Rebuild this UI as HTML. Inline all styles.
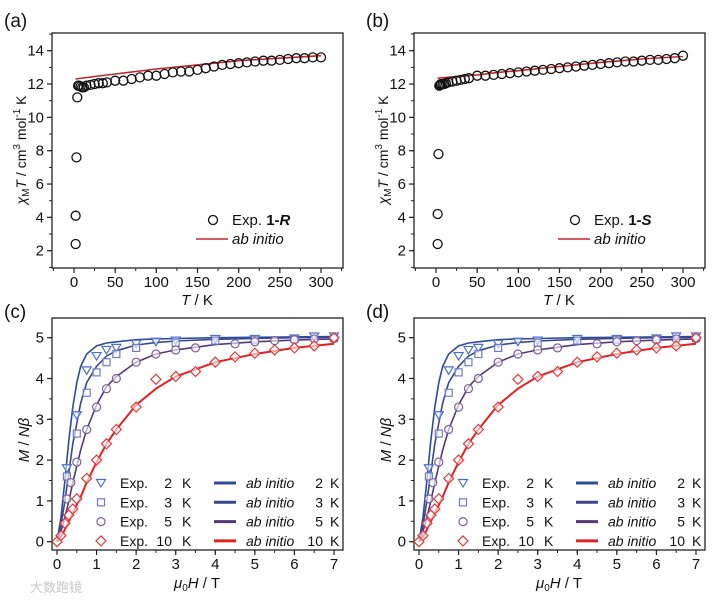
<!DOCTYPE html>
<html><head><meta charset="utf-8"><style>
html,body{margin:0;padding:0;background:#fff;}
svg{display:block;font-family:"Liberation Sans","Noto Sans CJK SC",sans-serif;}
</style></head><body>
<svg id="c" width="718" height="601" viewBox="0 0 718 601" xmlns="http://www.w3.org/2000/svg"></svg>
<script>
// ---- data: chi*T vs T ----
const tempA = [2,2,3,4,5,6,8,10,12,15,20,25,30,35,40,50,60,70,80,90,100,110,120,130,140,150,160,170,180,190,200,210,220,230,240,250,260,270,280,290,300];
const chiTA = [2.4,4.1,7.6,11.2,11.9,11.9,11.85,11.8,11.8,11.9,11.95,12.0,12.05,12.05,12.1,12.2,12.2,12.3,12.4,12.5,12.5,12.6,12.7,12.75,12.75,12.85,12.95,13.05,13.15,13.2,13.25,13.3,13.35,13.4,13.4,13.45,13.5,13.55,13.55,13.6,13.6];
const tempB = [2,2,3,4,5,6,8,10,12,15,20,25,30,35,40,50,60,70,80,90,100,110,120,130,140,150,160,170,180,190,200,210,220,230,240,250,260,270,280,290,300];
const chiTB = [2.4,4.2,7.8,11.9,11.95,12.0,12.0,12.0,12.05,12.1,12.15,12.2,12.25,12.3,12.35,12.5,12.5,12.55,12.6,12.65,12.7,12.75,12.8,12.85,12.9,12.95,13.0,13.05,13.1,13.15,13.2,13.25,13.3,13.35,13.35,13.4,13.45,13.45,13.5,13.55,13.7];
const abTempA = [2,25,50,75,100,150,200,250,300];
const abChiA = [12.3,12.45,12.6,12.75,12.9,13.15,13.4,13.55,13.7];
const abTempB = [2,25,50,75,100,150,200,250,300];
const abChiB = [12.35,12.45,12.55,12.7,12.8,13.05,13.3,13.5,13.65];
const tTicks = [0,50,100,150,200,250,300];
const chiTicks = [2,4,6,8,10,12,14];
// ---- data: magnetization ----
const h2 = [0.25,0.5,0.75,1,1.25,1.5,2,2.5,3,4,5,6,6.5,7];
const m2 = [1.8,3.1,4.2,4.55,4.7,4.75,4.85,4.9,4.93,4.97,4.97,4.98,5.03,5.03];
const h3 = [0.25,0.5,0.75,1,1.25,1.5,2,3,4,5,6,7];
const m3 = [1.6,2.65,3.65,4.15,4.4,4.6,4.75,4.88,4.93,4.95,4.97,4.99];
const h5 = [0.25,0.35,0.5,0.75,1,1.25,1.5,2,2.5,3,3.5,4.5,5,5.5,6,6.5,7];
const m5 = [1.05,1.45,1.95,2.75,3.3,3.75,4.0,4.4,4.6,4.7,4.75,4.85,4.9,4.93,4.95,4.97,4.98];
const h10 = [0,0.1,0.2,0.3,0.4,0.5,0.75,1,1.25,1.5,2,2.5,3,3.5,4,4.5,5,5.5,6,6.5,7];
const m10 = [0,0.15,0.45,0.65,0.8,1.05,1.55,2.0,2.4,2.75,3.3,3.98,4.05,4.17,4.4,4.53,4.62,4.7,4.75,4.8,5.0];
const hGrid = [0,0.1,0.2,0.3,0.4,0.5,0.6,0.75,1,1.25,1.5,2,2.5,3,4,5,6,7];
const fit2 = [0,0.6,1.5,2.5,3.3,3.9,4.3,4.6,4.8,4.87,4.9,4.95,4.97,4.98,5,5.01,5.02,5.03];
const fit3 = [0,0.4,1.0,1.7,2.4,2.9,3.4,3.9,4.3,4.55,4.68,4.82,4.88,4.92,4.96,4.98,5.0,5.01];
const fit5 = [0,0.25,0.6,1.0,1.45,1.85,2.25,2.75,3.35,3.8,4.05,4.4,4.6,4.7,4.83,4.9,4.94,4.97];
const fit10 = [0,0.12,0.3,0.5,0.7,0.9,1.1,1.45,1.95,2.4,2.75,3.35,3.75,4.05,4.4,4.6,4.75,4.85];
const hTicks = [0,1,2,3,4,5,6,7];
const mTicks = [0,1,2,3,4,5];

const NS="http://www.w3.org/2000/svg";
const svg=document.getElementById('c');
function el(tag,attrs,parent){const e=document.createElementNS(NS,tag);for(const k in attrs)e.setAttribute(k,attrs[k]);(parent||svg).appendChild(e);return e;}
function txt(s,x,y,o,parent){const t=el('text',Object.assign({x:x,y:y,'font-size':15,fill:'#111'},o||{}),parent);t.innerHTML=s;return t;}

function frame(g,L,T,R,B,xs,ys,xt,yt,xMinor,yMinor,xmin,xmax,ymin,ymax){
  el('rect',{x:L,y:T,width:R-L,height:B-T,fill:'none',stroke:'#222','stroke-width':1.3},g);
  xt.forEach(v=>{const x=xs(v);el('line',{x1:x,x2:x,y1:B,y2:B+5,stroke:'#222','stroke-width':1.2},g);
    const t=txt(String(v),x,B+19,{'text-anchor':'middle'},g);});
  for(let v=xmin;v<=xmax+1e-9;v+=xMinor){const x=xs(v);if(x>=L&&x<=R)el('line',{x1:x,x2:x,y1:B,y2:B+3,stroke:'#222','stroke-width':1},g);}
  yt.forEach(v=>{const y=ys(v);el('line',{x1:L-5,x2:L,y1:y,y2:y,stroke:'#222','stroke-width':1.2},g);
    const t=txt(String(v),L-8,y+5,{'text-anchor':'end'},g);});
  for(let v=ymin;v<=ymax+1e-9;v+=yMinor){const y=ys(v);if(y>=T&&y<=B)el('line',{x1:L-3,x2:L,y1:y,y2:y,stroke:'#222','stroke-width':1},g);}
}
function pathD(xa,ya,xs,ys){return xa.map((v,i)=>(i?'L':'M')+xs(v).toFixed(1)+','+ys(ya[i]).toFixed(1)).join(' ');}

function chiPanel(ox,label,tx,cy,abx,aby,comp){
  const g=el('g',{});
  
  
  const L=52+ox,R=343+ox,T=33,B=268;
  const xs=v=>74+ox+v*(247/300), ys=v=>250.7-(v-2)*(200/12);
  frame(g,L,T,R,B,xs,ys,tTicks,chiTicks,25,1,-25,325,1,15);
  const ln=el('path',{d:pathD(abx,aby,xs,ys),fill:'none',stroke:'#c0282a','stroke-width':1.6},g);
  
  
  tx.forEach((v,i)=>{const c=el('circle',{cx:xs(v),cy:ys(cy[i]),r:4.5,fill:'none',stroke:'#111','stroke-width':1.3},g);
    
    });
  const lab=txt('('+label+')',4+ox,27,{'font-size':19},g);
  
  const yt=txt('<tspan font-style="italic">χ</tspan><tspan font-size="10" dy="3">M</tspan><tspan font-style="italic" dy="-3">T</tspan> / cm<tspan font-size="10" dy="-6">3</tspan><tspan dy="6"> mol</tspan><tspan font-size="10" dy="-6">-1</tspan><tspan dy="6"> K</tspan>',0,0,{'text-anchor':'middle',transform:'translate('+(26+ox)+',150) rotate(-90)','font-size':14},g);
  
  const xt=txt('<tspan font-style="italic">T</tspan> / K',197+ox,305,{'text-anchor':'middle'},g);
  
  const lg=el('g',{},g);
  
  el('circle',{cx:213+ox,cy:220,r:4.5,fill:'none',stroke:'#111','stroke-width':1.3},lg);
  txt('Exp. <tspan font-weight="bold">1-<tspan font-style="italic">'+comp+'</tspan></tspan>',232+ox,225,{},lg);
  el('line',{x1:196+ox,x2:228+ox,y1:239,y2:239,stroke:'#c0282a','stroke-width':1.6},lg);
  txt('ab initio',232+ox,244,{'font-style':'italic'},lg);
}

function marker(g,type,x,y,col){
  let e;
  if(type==='tri') e=el('path',{d:`M${x-4.5},${y-3.5} L${x+4.5},${y-3.5} L${x},${y+4} Z`},g);
  else if(type==='sq') e=el('rect',{x:x-3.5,y:y-3.5,width:7,height:7},g);
  else if(type==='cir') e=el('circle',{cx:x,cy:y,r:4},g);
  else e=el('path',{d:`M${x},${y-5} L${x+5},${y} L${x},${y+5} L${x-5},${y} Z`},g);
  e.setAttribute('fill','rgba(255,255,255,0.6)');e.setAttribute('stroke',col);e.setAttribute('stroke-width',1.2);
  return e;
}

function mPanel(ox,label){
  const g=el('g',{});
  
  
  const L=52+ox,R=343+ox,T=318,B=550;
  const xs=v=>57+ox+v*(277/7), ys=v=>541.7-v*40.8;
  frame(g,L,T,R,B,xs,ys,hTicks,mTicks,0.5,0.5,0,7,0,5.5);
  const series=[
    {h:h2,m:m2,fit:fit2,mk:'tri',mc:'#4a6fd0',lc:'#2c4c9c',t:'2'},
    {h:h3,m:m3,fit:fit3,mk:'sq',mc:'#6f7cc4',lc:'#39488e',t:'3'},
    {h:h5,m:m5,fit:fit5,mk:'cir',mc:'#7d5c9e',lc:'#56387a',t:'5'},
    {h:h10,m:m10,fit:fit10,mk:'dia',mc:'#e03a3a',lc:'#e02222',t:'10'}];
  series.forEach(s=>{const p=el('path',{d:pathD(hGrid,s.fit,xs,ys),fill:'none',stroke:s.lc,'stroke-width':s.t==='10'?2:1.6},g);
    });
  series.forEach(s=>{s.h.forEach((v,i)=>{const m=marker(g,s.mk,xs(v),ys(s.m[i]),s.mc);
    });});
  series.forEach((s,i)=>{const y=483+i*19.3;
    const lg=el('g',{},g);
    
    marker(lg,s.mk,101+ox,y,s.mc);
    txt('Exp.',120+ox,y+5,{'font-size':14},lg);
    txt(s.t,172+ox,y+5,{'font-size':14,'text-anchor':'end'},lg);
    txt('K',182+ox,y+5,{'font-size':14},lg);
    el('line',{x1:214+ox,x2:236+ox,y1:y,y2:y,stroke:s.lc,'stroke-width':3},lg);
    txt('ab initio',246+ox,y+5,{'font-size':14,'font-style':'italic'},lg);
    txt(s.t,323+ox,y+5,{'font-size':14,'text-anchor':'end'},lg);
    txt('K',330+ox,y+5,{'font-size':14},lg);
  });
  const lab=txt('('+label+')',4+ox,318,{'font-size':19},g);
  
  const yt=txt('<tspan font-style="italic">M</tspan> / <tspan font-style="italic">Nβ</tspan>',0,0,{'text-anchor':'middle',transform:'translate('+(29+ox)+',440) rotate(-90)'},g);
  
  const xt=txt('<tspan font-style="italic">μ</tspan><tspan font-size="10" dy="3">0</tspan><tspan font-style="italic" dy="-3">H</tspan> / T',197+ox,588,{'text-anchor':'middle'},g);
  
}

chiPanel(0,'a',tempA,chiTA,abTempA,abChiA,'R');
chiPanel(362,'b',tempB,chiTB,abTempB,abChiB,'S');
mPanel(0,'c');
mPanel(362,'d');
const wm=txt('大数跑镜',30,592,{'font-size':13,fill:'#c8c8c8'});


</script>
</body></html>
